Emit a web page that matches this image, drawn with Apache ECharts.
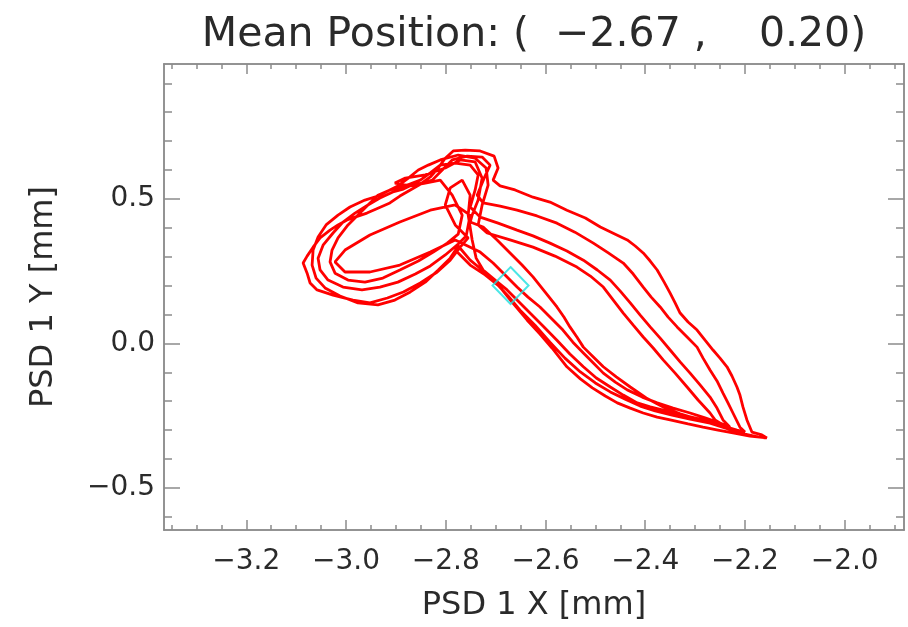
<!DOCTYPE html>
<html><head><meta charset="utf-8">
<script src="https://cdn.jsdelivr.net/npm/echarts@6/dist/echarts.min.js"></script>
<style>html,body{margin:0;padding:0;background:#fff}#c{width:908px;height:627px}</style>
</head><body><div id="c"></div>
<script>
// ---- data ----
const titleText = 'Mean Position: (  \u22122.67 ,    0.20)';
const meanPos = [-2.67, 0.20];
const xRange = [-3.365, -1.881];
const yRange = [-0.646, 0.967];
const xTickLabels = [-3.2, -3.0, -2.8, -2.6, -2.4, -2.2, -2.0];
const xMinorTicks = [-3.35,-3.3,-3.25,-3.15,-3.1,-3.05,-2.95,-2.9,-2.85,-2.75,-2.7,-2.65,-2.55,-2.5,-2.45,-2.35,-2.3,-2.25,-2.15,-2.1,-2.05,-1.95,-1.9];
const yTickLabels = [-0.5, 0.0, 0.5];
const yMinorTicks = [-0.6,-0.4,-0.3,-0.2,-0.1,0.1,0.2,0.3,0.4,0.6,0.7,0.8,0.9];
const xName = 'PSD 1 X [mm]';
const yName = 'PSD 1 Y [mm]';

// trajectory, cycle by cycle
const loop1 = [
[-2.781,0.323],[-2.751,0.271],[-2.721,0.237],[-2.691,0.195],[-2.667,0.143],[-2.637,0.081],[-2.611,0.032],[-2.587,-0.016],[-2.557,-0.081],[-2.530,-0.123],[-2.506,-0.154],[-2.480,-0.182],[-2.456,-0.206],[-2.430,-0.224],[-2.404,-0.241],[-2.376,-0.255],[-2.350,-0.265],[-2.314,-0.279],[-2.284,-0.290],[-2.254,-0.300],[-2.224,-0.310],[-2.190,-0.321],[-2.156,-0.327],
[-2.166,-0.317],[-2.186,-0.307],
[-2.196,-0.265],[-2.204,-0.220],[-2.210,-0.179],[-2.216,-0.151],[-2.226,-0.113],[-2.236,-0.081],[-2.250,-0.051],[-2.264,-0.023],[-2.280,0.011],[-2.296,0.046],[-2.314,0.074],[-2.330,0.105],[-2.340,0.140],[-2.350,0.174],[-2.362,0.212],[-2.376,0.254],[-2.390,0.285],[-2.404,0.313],[-2.420,0.337],[-2.436,0.358],[-2.460,0.378],[-2.490,0.403],[-2.520,0.434],[-2.557,0.461],[-2.591,0.489],[-2.625,0.506],[-2.661,0.531],[-2.691,0.545],
[-2.705,0.565],[-2.695,0.607],[-2.703,0.648],[-2.731,0.666],[-2.761,0.669],[-2.785,0.666],[-2.801,0.641],[-2.815,0.607],
[-2.831,0.576],[-2.851,0.551],[-2.871,0.531],[-2.892,0.510],[-2.912,0.486],[-2.936,0.468],[-2.958,0.451],[-2.982,0.437],[-2.998,0.427],[-3.016,0.410],[-3.032,0.392],[-3.052,0.365],[-3.066,0.333],[-3.078,0.302],[-3.086,0.278],[-3.078,0.243],[-3.072,0.209],[-3.058,0.185],[-3.026,0.167],[-2.986,0.150],[-2.952,0.140],[-2.917,0.157],[-2.885,0.178],[-2.851,0.209],[-2.817,0.247],[-2.791,0.288],[-2.771,0.333],[-2.755,0.365]
];
const knotA = [
[-2.781,0.410],[-2.801,0.479],[-2.791,0.538],[-2.767,0.565],[-2.751,0.513],[-2.755,0.444],[-2.747,0.358]
];
const loop2 = [
[-2.739,0.295],[-2.725,0.254],[-2.701,0.219],[-2.677,0.185],[-2.655,0.147],[-2.631,0.105],[-2.605,0.060],[-2.577,0.011],[-2.551,-0.037],[-2.524,-0.081],[-2.498,-0.120],[-2.470,-0.151],[-2.444,-0.179],[-2.416,-0.206],[-2.390,-0.220],[-2.364,-0.231],[-2.324,-0.248],[-2.284,-0.265],[-2.250,-0.283],[-2.216,-0.300],[-2.200,-0.307],
[-2.210,-0.290],[-2.224,-0.241],[-2.234,-0.206],[-2.244,-0.172],[-2.256,-0.130],[-2.270,-0.092],[-2.284,-0.051],[-2.296,-0.013],[-2.316,0.022],[-2.336,0.057],[-2.354,0.091],[-2.370,0.126],[-2.388,0.160],[-2.404,0.195],[-2.424,0.240],[-2.444,0.278],[-2.474,0.313],[-2.504,0.347],[-2.541,0.385],[-2.577,0.416],[-2.617,0.441],[-2.657,0.461],[-2.691,0.475],[-2.725,0.486],
[-2.737,0.513],[-2.723,0.572],[-2.711,0.617],[-2.727,0.645],[-2.757,0.648],[-2.787,0.635],[-2.807,0.600],
[-2.827,0.565],[-2.845,0.555],[-2.865,0.551],[-2.885,0.534],[-2.906,0.524],[-2.932,0.503],[-2.956,0.479],[-2.982,0.451],[-3.006,0.420],[-3.026,0.382],[-3.046,0.340],[-3.056,0.295],[-3.052,0.254],[-3.036,0.219],[-3.006,0.195],[-2.968,0.185],[-2.932,0.195],[-2.896,0.212],[-2.861,0.240],[-2.831,0.268],[-2.801,0.306],[-2.775,0.344],[-2.759,0.372]
];
const innerLoop = [
[-2.751,0.444],[-2.781,0.479],[-2.831,0.461],[-2.892,0.420],[-2.952,0.375],[-3.002,0.323],[-3.022,0.282],[-3.002,0.247],[-2.952,0.247],[-2.892,0.271],[-2.831,0.316],[-2.781,0.358]
];
const loop3 = [
[-2.731,0.316],[-2.705,0.278],[-2.681,0.237],[-2.657,0.195],[-2.635,0.160],[-2.611,0.126],[-2.589,0.088],[-2.565,0.046],[-2.545,0.004],[-2.524,-0.033],[-2.504,-0.068],[-2.484,-0.103],[-2.460,-0.134],[-2.436,-0.161],[-2.406,-0.186],[-2.376,-0.206],[-2.344,-0.224],[-2.310,-0.241],[-2.280,-0.258],[-2.250,-0.276],[-2.230,-0.290],
[-2.244,-0.265],[-2.256,-0.224],[-2.270,-0.186],[-2.290,-0.144],[-2.310,-0.103],[-2.330,-0.064],[-2.350,-0.023],[-2.370,0.018],[-2.390,0.057],[-2.410,0.098],[-2.430,0.140],[-2.450,0.181],[-2.470,0.219],[-2.496,0.254],[-2.524,0.288],[-2.557,0.320],[-2.591,0.347],[-2.625,0.372],[-2.657,0.392],[-2.695,0.416],[-2.731,0.437],
[-2.751,0.472],[-2.741,0.531],[-2.735,0.583],[-2.751,0.617],[-2.781,0.624],[-2.811,0.617],[-2.831,0.590],
[-2.851,0.565],[-2.881,0.545],[-2.912,0.531],[-2.936,0.513],[-2.956,0.479],[-2.976,0.444],[-2.996,0.410],[-3.016,0.365],[-3.028,0.323],[-3.032,0.282],[-3.022,0.243],[-2.996,0.219],[-2.962,0.212],[-2.926,0.226],[-2.892,0.254],[-2.855,0.285],[-2.825,0.316],[-2.797,0.347],[-2.775,0.378]
];
const knotB = [
[-2.767,0.444],[-2.787,0.513],[-2.811,0.565],[-2.841,0.555],[-2.871,0.545],[-2.902,0.555],[-2.881,0.572],[-2.841,0.583],[-2.801,0.607],[-2.771,0.635],[-2.741,0.628],[-2.727,0.572],[-2.735,0.496],[-2.747,0.444]
];
const loop4 = [
[-2.751,0.420],[-2.725,0.403],[-2.697,0.358],[-2.671,0.313],[-2.647,0.271],[-2.625,0.230],[-2.601,0.178],[-2.577,0.126],[-2.563,0.091],[-2.551,0.057],[-2.537,0.022],[-2.524,-0.013],[-2.504,-0.047],[-2.484,-0.081],[-2.458,-0.116],[-2.430,-0.151],[-2.398,-0.189],[-2.364,-0.220],[-2.330,-0.244],[-2.290,-0.265],[-2.260,-0.279],[-2.230,-0.293],[-2.214,-0.307],
[-2.234,-0.293],[-2.260,-0.265],[-2.270,-0.241],[-2.294,-0.196],[-2.316,-0.151],[-2.340,-0.103],[-2.364,-0.057],[-2.384,-0.016],[-2.404,0.022],[-2.424,0.063],[-2.444,0.105],[-2.464,0.150],[-2.484,0.195],[-2.510,0.233],[-2.537,0.264],[-2.581,0.302],[-2.625,0.333],[-2.671,0.358],[-2.717,0.382],
[-2.735,0.410],[-2.727,0.479],[-2.715,0.548],[-2.719,0.607],[-2.741,0.641],[-2.775,0.652],[-2.811,0.635],[-2.835,0.617],
[-2.855,0.600],[-2.875,0.572],[-2.896,0.545],[-2.912,0.531],[-2.936,0.510],[-2.962,0.496],[-2.992,0.472],[-3.016,0.444],[-3.040,0.410],[-3.056,0.368],[-3.066,0.323],[-3.068,0.271],[-3.060,0.226],[-3.042,0.192],[-3.012,0.164],[-2.976,0.140],[-2.936,0.133],[-2.902,0.150],[-2.871,0.178],[-2.841,0.212],[-2.815,0.254],[-2.791,0.295],[-2.775,0.337]
];
const loop5 = [
[-2.751,0.288],[-2.727,0.254],[-2.701,0.212],[-2.675,0.164],[-2.651,0.115],[-2.621,0.063],[-2.591,0.004],[-2.561,-0.051],[-2.530,-0.099],[-2.500,-0.137],[-2.470,-0.168],[-2.440,-0.193],[-2.410,-0.217],[-2.380,-0.234],[-2.346,-0.248],[-2.310,-0.262],[-2.270,-0.276],[-2.234,-0.296],[-2.200,-0.314],[-2.174,-0.324],[-2.160,-0.327]
];

// ---- chart ----
const track = loop1.concat(knotA, loop2, innerLoop, loop3, knotB, loop4, loop5);
const axisGray = '#8c8c8c';
const textColor = '#2a2a2a';
const FONT = 'DejaVu Sans';
function fmt(v) { return (v < 0 ? '\u2212' : '') + Math.abs(v).toFixed(1); }

function mkAxis(kind, pos, ticks, len, withLabels, extra) {
  const a = {
    type: 'value', position: pos,
    min: kind === 'x' ? xRange[0] : yRange[0],
    max: kind === 'x' ? xRange[1] : yRange[1],
    axisLine: { show: true, onZero: false, lineStyle: { color: axisGray, width: 1.5 } },
    axisTick: { show: true, inside: true, length: len, customValues: ticks, lineStyle: { color: axisGray, width: 1.5 } },
    axisLabel: withLabels ? {
      show: true, customValues: ticks, formatter: fmt,
      color: textColor, fontFamily: FONT, fontSize: 28,
      margin: kind === 'x' ? 18 : 9
    } : { show: false },
    splitLine: { show: false }, minorTick: { show: false }
  };
  return Object.assign(a, extra || {});
}

const chart = echarts.init(document.getElementById('c'), null, { renderer: 'canvas' });
chart.setOption({
  animation: false,
  backgroundColor: '#ffffff',
  grid: { left: 164, top: 64, right: 4, bottom: 97, containLabel: false },
  xAxis: [
    mkAxis('x', 'bottom', xTickLabels, 10, true, {
      name: xName, nameLocation: 'middle', nameGap: 60,
      nameTextStyle: { color: textColor, fontFamily: FONT, fontSize: 32 }
    }),
    mkAxis('x', 'bottom', xMinorTicks, 5, false),
    mkAxis('x', 'top', xTickLabels, 10, false),
    mkAxis('x', 'top', xMinorTicks, 5, false)
  ],
  yAxis: [
    mkAxis('y', 'left', yTickLabels, 16, true, {
      name: yName, nameLocation: 'middle', nameGap: 104, nameRotate: 90,
      nameTextStyle: { color: textColor, fontFamily: FONT, fontSize: 32 }
    }),
    mkAxis('y', 'left', yMinorTicks, 8, false),
    mkAxis('y', 'right', yTickLabels, 16, false),
    mkAxis('y', 'right', yMinorTicks, 8, false)
  ],
  graphic: [{
    type: 'text', x: 534, y: 35, z: 100,
    style: { text: titleText, fill: textColor, font: '41px "DejaVu Sans"', textAlign: 'center', textVerticalAlign: 'middle' }
  }],
  series: [
    {
      type: 'line', data: track, showSymbol: false, symbol: 'none', smooth: false,
      lineStyle: { color: '#ff0000', width: 2.8 }, z: 2
    },
    {
      type: 'scatter', data: [meanPos], symbol: 'diamond', symbolSize: [36, 37],
      itemStyle: { color: 'rgba(0,0,0,0)', borderColor: '#1ee0e0', borderWidth: 2 }, z: 3
    }
  ]
});
</script></body></html>
